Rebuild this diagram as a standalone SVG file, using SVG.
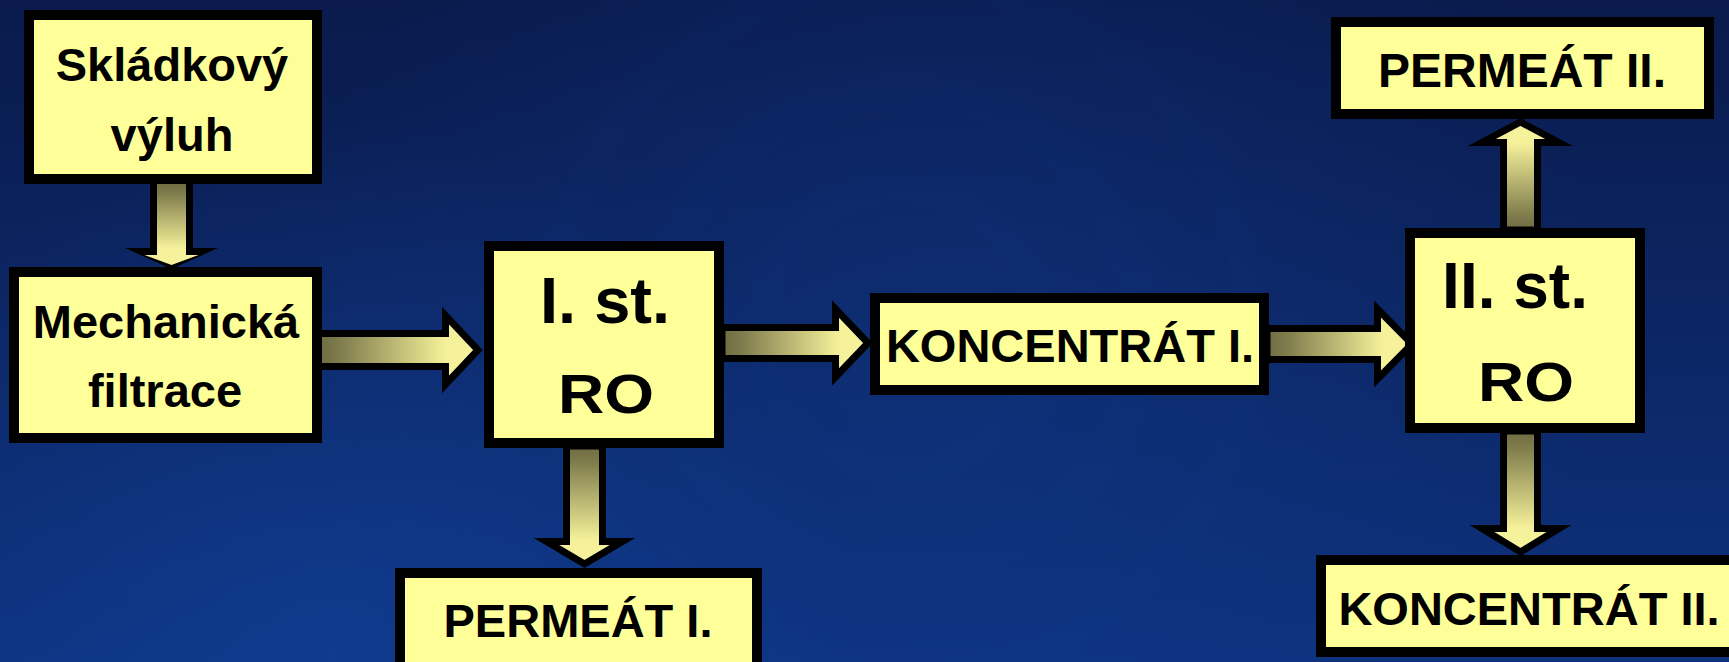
<svg xmlns="http://www.w3.org/2000/svg" width="1729" height="662" viewBox="0 0 1729 662">
  <defs>
    <linearGradient id="bg" x1="0" y1="0" x2="0" y2="1">
      <stop offset="0" stop-color="#0a1a4c"/>
      <stop offset="0.5" stop-color="#0c2664"/>
      <stop offset="1" stop-color="#0d327e"/>
    </linearGradient>
    <radialGradient id="glow" cx="950" cy="330" r="650" gradientUnits="userSpaceOnUse">
      <stop offset="0" stop-color="#124099" stop-opacity="0.3"/>
      <stop offset="1" stop-color="#124099" stop-opacity="0"/>
    </radialGradient>
    <radialGradient id="glow2" cx="330" cy="640" r="520" gradientUnits="userSpaceOnUse">
      <stop offset="0" stop-color="#1448a6" stop-opacity="0.4"/>
      <stop offset="1" stop-color="#1448a6" stop-opacity="0"/>
    </radialGradient>
    <linearGradient id="gDown" x1="0" y1="0" x2="0" y2="1">
      <stop offset="0" stop-color="#6f6c44"/>
      <stop offset="0.12" stop-color="#7c794b"/>
      <stop offset="0.8" stop-color="#f5f19a"/>
      <stop offset="1" stop-color="#f7f39c"/>
    </linearGradient>
    <linearGradient id="gUp" x1="0" y1="1" x2="0" y2="0">
      <stop offset="0" stop-color="#6f6c44"/>
      <stop offset="0.12" stop-color="#7c794b"/>
      <stop offset="0.8" stop-color="#f5f19a"/>
      <stop offset="1" stop-color="#f7f39c"/>
    </linearGradient>
    <linearGradient id="gRight" x1="0" y1="0" x2="1" y2="0">
      <stop offset="0" stop-color="#6f6c44"/>
      <stop offset="0.12" stop-color="#7c794b"/>
      <stop offset="0.8" stop-color="#f5f19a"/>
      <stop offset="1" stop-color="#f7f39c"/>
    </linearGradient>
  </defs>
  <style>
    .box { fill: #ffff99; stroke: #000000; stroke-width: 10; }
    .lbl { font-family: "Liberation Sans", Arial, sans-serif; font-weight: bold; fill: #000000; text-anchor: middle; }
    .arrow { stroke: #000000; stroke-width: 7; stroke-linejoin: miter; stroke-miterlimit: 10; }
    .arrow-outline { fill: #000000; }
    .ring { fill: none; stroke: #2a5cb8; stroke-opacity: 0.035; }
  </style>

  <rect x="0" y="0" width="1729" height="662" fill="url(#bg)"/>
  <rect x="0" y="0" width="1729" height="662" fill="url(#glow)"/>
  <rect x="0" y="0" width="1729" height="662" fill="url(#glow2)"/>
  <g id="texture">
    <circle class="ring" cx="900" cy="330" r="140" stroke-width="30"/>
    <circle class="ring" cx="900" cy="330" r="240" stroke-width="40"/>
    <circle class="ring" cx="900" cy="330" r="350" stroke-width="30"/>
  </g>

  <g id="connectors">
    <polygon class="arrow-outline" points="150,182 193,182 193,248 218,248 171.5,269 125,248 150,248"/>
    <polygon fill="url(#gDown)" points="157,182 186,182 186,255 198.5,255 171.5,265 144.5,255 157,255"/>
    <polygon class="arrow" fill="url(#gRight)" points="318,333.5 445.5,333.5 445.5,315.5 478,350 445.5,384.5 445.5,366.5 318,366.5"/>
    <polygon class="arrow" fill="url(#gRight)" points="722,327.5 835.5,327.5 835.5,309 868,343 835.5,377 835.5,358.5 722,358.5"/>
    <polygon class="arrow" fill="url(#gRight)" points="1267,328.5 1377.5,328.5 1377.5,309 1412,344 1377.5,379 1377.5,359.5 1267,359.5"/>
    <polygon class="arrow" fill="url(#gDown)" points="566.5,446 602.5,446 602.5,541.5 622.5,541.5 584.5,564 546.5,541.5 566.5,541.5"/>
    <polygon class="arrow" fill="url(#gUp)" points="1503.5,230 1537.5,230 1537.5,142.5 1559,142.5 1520.5,122 1482,142.5 1503.5,142.5"/>
    <polygon class="arrow" fill="url(#gDown)" points="1503.5,431 1537.5,431 1537.5,528.5 1559,528.5 1520.5,552 1482,528.5 1503.5,528.5"/>
  </g>

  <g id="node-skladkovy-vyluh">
    <rect class="box" x="29" y="15" width="288" height="164"/>
    <text class="lbl" x="172" y="81" font-size="47">Skládkový</text>
    <text class="lbl" x="172" y="151" font-size="47">výluh</text>
  </g>

  <g id="node-mechanicka-filtrace">
    <rect class="box" x="14" y="272" width="303" height="166"/>
    <text class="lbl" x="166" y="338" font-size="47">Mechanická</text>
    <text class="lbl" x="165" y="407" font-size="47">filtrace</text>
  </g>

  <g id="node-ro1">
    <rect class="box" x="489" y="246" width="230" height="197"/>
    <text class="lbl" x="605" y="323" font-size="65">I. st.</text>
    <text class="lbl" transform="translate(606,413) scale(1,0.87)" font-size="64">RO</text>
  </g>

  <g id="node-koncentrat1">
    <rect class="box" x="875" y="298" width="389" height="92"/>
    <text class="lbl" x="1070" y="362" font-size="47">KONCENTRÁT I.</text>
  </g>

  <g id="node-permeat1">
    <rect class="box" x="400" y="573" width="357" height="100"/>
    <text class="lbl" x="578" y="637" font-size="47">PERMEÁT I.</text>
  </g>

  <g id="node-ro2">
    <rect class="box" x="1410" y="233" width="230" height="195"/>
    <text class="lbl" x="1515" y="308" font-size="64">II. st.</text>
    <text class="lbl" transform="translate(1526,401) scale(1,0.87)" font-size="64">RO</text>
  </g>

  <g id="node-permeat2">
    <rect class="box" x="1336" y="22" width="373" height="92"/>
    <text class="lbl" x="1522" y="87" font-size="48">PERMEÁT II.</text>
  </g>

  <g id="node-koncentrat2">
    <rect class="box" x="1321" y="560" width="420" height="92"/>
    <text class="lbl" x="1529" y="625" font-size="47">KONCENTRÁT II.</text>
  </g>
</svg>
